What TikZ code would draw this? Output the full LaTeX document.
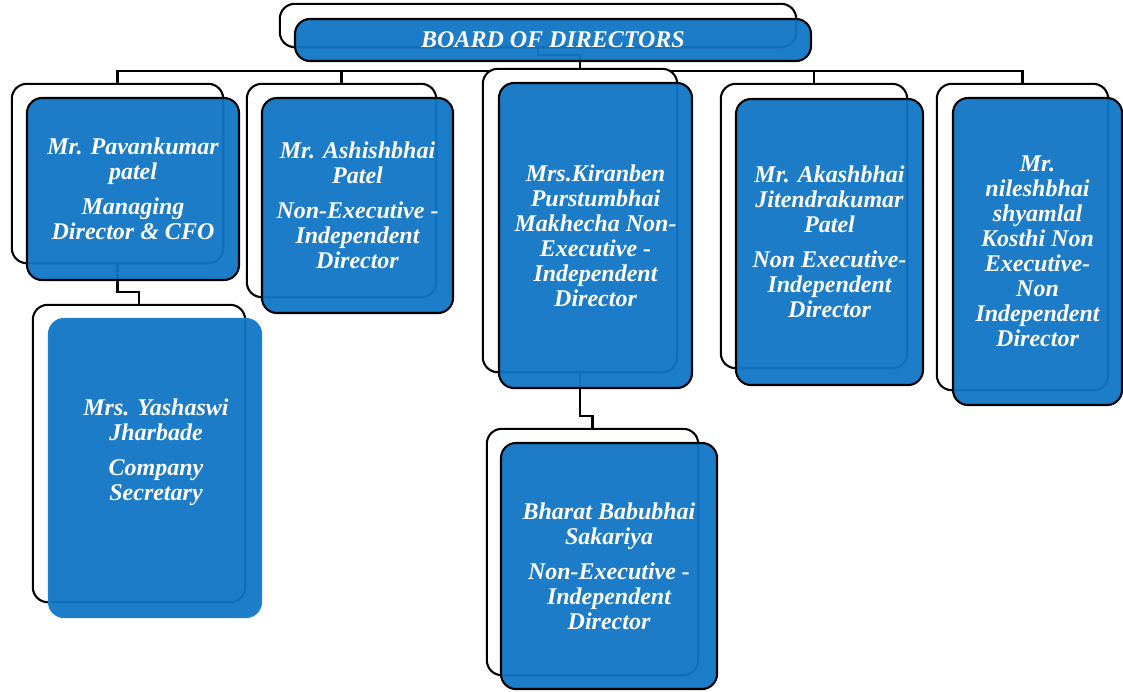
\documentclass[tikz,border=0pt]{standalone}
\usepackage{fontspec}
\setmainfont{Liberation Serif}
\definecolor{boxblue}{RGB}{16,118,197}
\definecolor{edgeblue}{RGB}{30,128,205}
\tikzset{
  backbox/.style={draw=black, line width=2.1pt, fill=white, rounded corners=15pt, inner sep=0pt},
  frontbox/.style={draw=black, line width=2.1pt, fill=boxblue, fill opacity=0.95, text opacity=1,
    rounded corners=15pt, inner sep=0pt, text=white,
    font=\fontsize{24}{25}\selectfont\bfseries\itshape, align=center},
  boxtext/.style={text=white, font=\fontsize{24}{25}\selectfont\bfseries\itshape, align=center, inner sep=0pt},
  conn/.style={draw=black, line width=2.1pt},
}
\begin{document}
\begin{tikzpicture}[x=1pt,y=-1pt]
\useasboundingbox (0,0) rectangle (1123,691);

% back box frames (placed first so the connectors can run beneath them)
\path
  node[minimum width=516pt, minimum height=43pt, inner sep=0pt] (bback) at (538,25.5) {}
  node[minimum width=211pt, minimum height=179pt, inner sep=0pt] (pback) at (117.5,173.5) {}
  node[minimum width=189pt, minimum height=213pt, inner sep=0pt] (aback) at (341.5,190.5) {}
  node[minimum width=194pt, minimum height=303pt, inner sep=0pt] (kback) at (580,220.5) {}
  node[minimum width=186pt, minimum height=284pt, inner sep=0pt] (jback) at (814,226) {}
  node[minimum width=171pt, minimum height=306pt, inner sep=0pt] (nback) at (1022.5,237) {}
  node[minimum width=212pt, minimum height=297pt, inner sep=0pt] (yback) at (139,453.5) {}
  node[minimum width=211pt, minimum height=246pt, inner sep=0pt] (hback) at (592.5,552) {};

% connectors
\draw[conn] (pback.north) -- ++(0,-13) -| (nback.north);
\draw[conn] (aback.north) -- ++(0,-13);
\draw[conn] (jback.north) -- ++(0,-13);
\draw[conn] (bback.south) -- ++(0,8) -| (kback.north);
\draw[conn] (pback.south) -- ++(0,29) -| (yback.north);
\draw[conn] (kback.south) -- ++(0,44) -| (hback.north);

% back boxes drawn
\foreach \n in {bback,pback,aback,kback,jback,nback,yback,hback}{
  \draw[backbox] (\n.south west) rectangle (\n.north east);
}

% front boxes
\node[frontbox, minimum width=516pt, minimum height=42pt] (board) at (553,40)
  {BOARD OF DIRECTORS};
\node[frontbox, minimum width=212pt, minimum height=182pt] (pav) at (133,189)
  {Mr. Pavankumar\\patel\\[10pt]Managing\\Director \& CFO};
\node[frontbox, minimum width=191pt, minimum height=215pt] (ash) at (357.5,205.5)
  {Mr. Ashishbhai\\Patel\\[10pt]Non-Executive -\\Independent\\Director};
\node[frontbox, minimum width=193pt, minimum height=305pt] (kir) at (595.5,235.5)
  {Mrs.Kiranben\\Purstumbhai\\Makhecha Non-\\Executive -\\Independent\\Director};
\node[frontbox, minimum width=187pt, minimum height=286pt] (aka) at (829.5,242)
  {Mr. Akashbhai\\Jitendrakumar\\Patel\\[10pt]Non Executive-\\Independent\\Director};
\node[frontbox, minimum width=169pt, minimum height=307pt] (nil) at (1037.5,251.5)
  {Mr.\\nileshbhai\\shyamlal\\Kosthi Non\\Executive-\\Non\\Independent\\Director};
\node[frontbox, draw=edgeblue, minimum width=212pt, minimum height=298pt] (yas) at (155,468) {};
\node[boxtext] (yastext) at (156,452)
  {Mrs. Yashaswi\\Jharbade\\[10pt]Company\\Secretary};
\node[frontbox, minimum width=216pt, minimum height=246pt] (bha) at (609,566)
  {Bharat Babubhai\\Sakariya\\[10pt]Non-Executive -\\Independent\\Director};
\end{tikzpicture}
\end{document}
